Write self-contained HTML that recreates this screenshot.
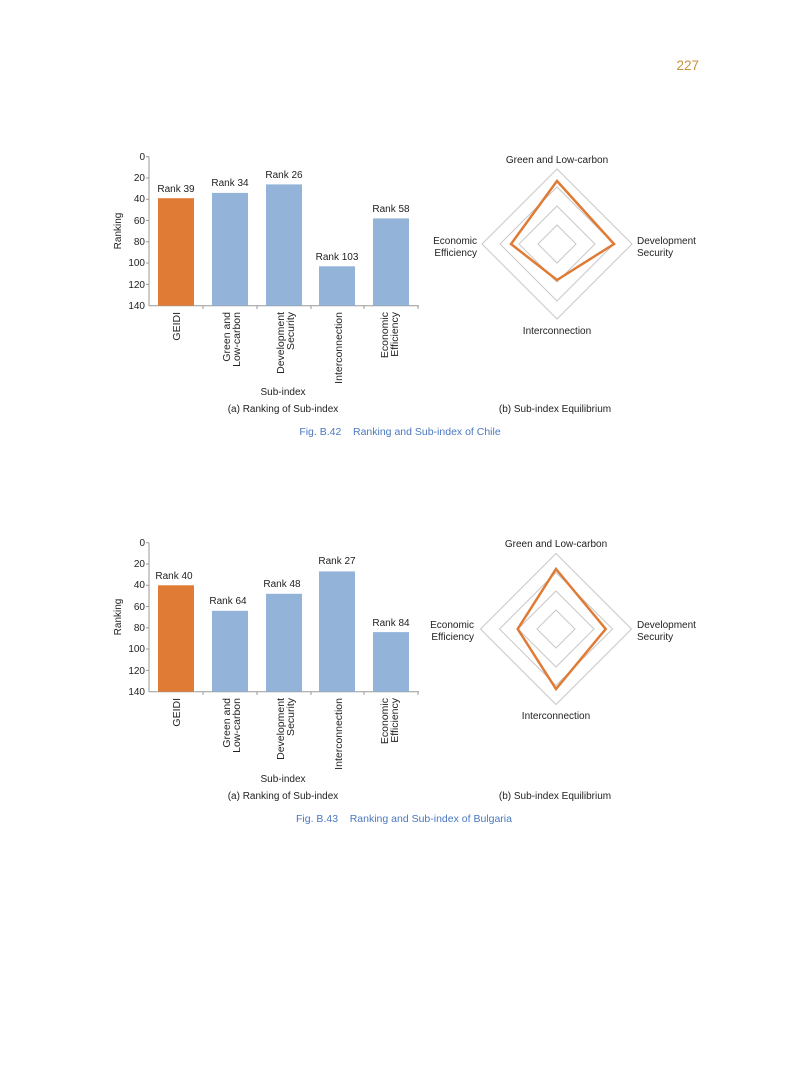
<!DOCTYPE html>
<html><head><meta charset="utf-8"><style>
html,body{margin:0;padding:0;background:#fff}
svg text{font-family:"Liberation Sans",sans-serif;fill:#222}
.cap{white-space:pre}
</style></head><body>
<svg width="793" height="1077" viewBox="0 0 793 1077" xmlns="http://www.w3.org/2000/svg">
<text x="699" y="70" font-size="13.5" text-anchor="end" style="fill:#c8923a">227</text>

<g id="c1">
<g font-size="10" text-anchor="end">
<text x="145" y="160">0</text><text x="145" y="181">20</text><text x="145" y="202">40</text><text x="145" y="224">60</text><text x="145" y="245">80</text><text x="145" y="266">100</text><text x="145" y="288">120</text><text x="145" y="309">140</text>
</g>
<line x1="149" y1="156.7" x2="149" y2="306" stroke="#999" stroke-width="1"/>
<line x1="149" y1="305.7" x2="419" y2="305.7" stroke="#999" stroke-width="1"/>
<g stroke="#999"><line x1="146" y1="156.7" x2="149" y2="156.7"/><line x1="146" y1="178" x2="149" y2="178"/><line x1="146" y1="199.3" x2="149" y2="199.3"/><line x1="146" y1="220.5" x2="149" y2="220.5"/><line x1="146" y1="241.8" x2="149" y2="241.8"/><line x1="146" y1="263" x2="149" y2="263"/><line x1="146" y1="284.4" x2="149" y2="284.4"/>
<line x1="203" y1="306" x2="203" y2="309"/><line x1="257" y1="306" x2="257" y2="309"/><line x1="311" y1="306" x2="311" y2="309"/><line x1="364" y1="306" x2="364" y2="309"/><line x1="418" y1="306" x2="418" y2="309"/></g>
<rect x="158" y="198.2" width="36" height="107.5" fill="#e07b35"/>
<rect x="212" y="192.9" width="36" height="112.8" fill="#93b3d9"/>
<rect x="266" y="184.4" width="36" height="121.3" fill="#93b3d9"/>
<rect x="319" y="266.3" width="36" height="39.4" fill="#93b3d9"/>
<rect x="373" y="218.4" width="36" height="87.3" fill="#93b3d9"/>
<g font-size="10" text-anchor="middle">
<text x="176" y="192">Rank 39</text><text x="230" y="186">Rank 34</text><text x="284" y="178">Rank 26</text><text x="337" y="260">Rank 103</text><text x="391" y="212">Rank 58</text>
</g>
<text transform="translate(121,231) rotate(-90)" font-size="10" text-anchor="middle">Ranking</text>
<g font-size="10.5" text-anchor="end">
<text transform="translate(180,312) rotate(-90)">GEIDI</text>
<text transform="translate(230,312) rotate(-90)">Green and</text><text transform="translate(240,312) rotate(-90)">Low-carbon</text>
<text transform="translate(284,312) rotate(-90)">Development</text><text transform="translate(294,312) rotate(-90)">Security</text>
<text transform="translate(342,312) rotate(-90)">Interconnection</text>
<text transform="translate(388,312) rotate(-90)">Economic</text><text transform="translate(398,312) rotate(-90)">Efficiency</text>
</g>
<text x="283" y="395" font-size="10" text-anchor="middle">Sub-index</text>
<text x="283" y="412" font-size="10" text-anchor="middle">(a) Ranking of Sub-index</text>
<g fill="none" stroke="#c8c8c8" stroke-width="1">
<polygon points="557,169 632,244 557,319 482,244"/>
<polygon points="557,187 614,244 557,301 500,244"/>
<polygon points="557,206 595,244 557,282 519,244"/>
<polygon points="557,225 576,244 557,263 538,244"/>
</g>
<polygon points="557,181 614,244 557,280 511,244" fill="none" stroke="#e07b35" stroke-width="2.5"/>
<g font-size="10">
<text x="557" y="163" text-anchor="middle">Green and Low-carbon</text>
<text x="557" y="334" text-anchor="middle">Interconnection</text>
<text x="477" y="244" text-anchor="end">Economic</text><text x="477" y="256" text-anchor="end">Efficiency</text>
<text x="637" y="244">Development</text><text x="637" y="256">Security</text>
</g>
<text x="555" y="412" font-size="10" text-anchor="middle">(b) Sub-index Equilibrium</text>
<text class="cap" x="400" y="435" font-size="10.5" text-anchor="middle" style="fill:#4a78c0">Fig. B.42    Ranking and Sub-index of Chile</text>
</g>

<g transform="translate(0,386)">
<g font-size="10" text-anchor="end">
<text x="145" y="160">0</text><text x="145" y="181">20</text><text x="145" y="202">40</text><text x="145" y="224">60</text><text x="145" y="245">80</text><text x="145" y="266">100</text><text x="145" y="288">120</text><text x="145" y="309">140</text>
</g>
<line x1="149" y1="156.7" x2="149" y2="306" stroke="#999" stroke-width="1"/>
<line x1="149" y1="305.7" x2="419" y2="305.7" stroke="#999" stroke-width="1"/>
<g stroke="#999"><line x1="146" y1="156.7" x2="149" y2="156.7"/><line x1="146" y1="178" x2="149" y2="178"/><line x1="146" y1="199.3" x2="149" y2="199.3"/><line x1="146" y1="220.5" x2="149" y2="220.5"/><line x1="146" y1="241.8" x2="149" y2="241.8"/><line x1="146" y1="263" x2="149" y2="263"/><line x1="146" y1="284.4" x2="149" y2="284.4"/>
<line x1="203" y1="306" x2="203" y2="309"/><line x1="257" y1="306" x2="257" y2="309"/><line x1="311" y1="306" x2="311" y2="309"/><line x1="364" y1="306" x2="364" y2="309"/><line x1="418" y1="306" x2="418" y2="309"/></g>
<rect x="158" y="199.3" width="36" height="106.4" fill="#e07b35"/>
<rect x="212" y="224.8" width="36" height="80.9" fill="#93b3d9"/>
<rect x="266" y="207.8" width="36" height="97.9" fill="#93b3d9"/>
<rect x="319" y="185.4" width="36" height="120.3" fill="#93b3d9"/>
<rect x="373" y="246.1" width="36" height="59.6" fill="#93b3d9"/>
<g font-size="10" text-anchor="middle">
<text x="174" y="193">Rank 40</text><text x="228" y="218">Rank 64</text><text x="282" y="201">Rank 48</text><text x="337" y="178">Rank 27</text><text x="391" y="240">Rank 84</text>
</g>
<text transform="translate(121,231) rotate(-90)" font-size="10" text-anchor="middle">Ranking</text>
<g font-size="10.5" text-anchor="end">
<text transform="translate(180,312) rotate(-90)">GEIDI</text>
<text transform="translate(230,312) rotate(-90)">Green and</text><text transform="translate(240,312) rotate(-90)">Low-carbon</text>
<text transform="translate(284,312) rotate(-90)">Development</text><text transform="translate(294,312) rotate(-90)">Security</text>
<text transform="translate(342,312) rotate(-90)">Interconnection</text>
<text transform="translate(388,312) rotate(-90)">Economic</text><text transform="translate(398,312) rotate(-90)">Efficiency</text>
</g>
<text x="283" y="396" font-size="10" text-anchor="middle">Sub-index</text>
<text x="283" y="413" font-size="10" text-anchor="middle">(a) Ranking of Sub-index</text>
<g fill="none" stroke="#c8c8c8" stroke-width="1">
<polygon points="556,167.5 631.5,243 556,318.5 480.5,243"/>
<polygon points="556,186.5 612.5,243 556,299.5 499.5,243"/>
<polygon points="556,205 594,243 556,281 518,243"/>
<polygon points="556,224 575,243 556,262 537,243"/>
</g>
<polygon points="556,183 605.7,243 556,303 517.7,243" fill="none" stroke="#e07b35" stroke-width="2.5"/>
<g font-size="10">
<text x="556" y="161" text-anchor="middle">Green and Low-carbon</text>
<text x="556" y="333" text-anchor="middle">Interconnection</text>
<text x="474" y="242" text-anchor="end">Economic</text><text x="474" y="254" text-anchor="end">Efficiency</text>
<text x="637" y="242">Development</text><text x="637" y="254">Security</text>
</g>
<text x="555" y="413" font-size="10" text-anchor="middle">(b) Sub-index Equilibrium</text>
<text class="cap" x="404" y="436" font-size="10.5" text-anchor="middle" style="fill:#4a78c0">Fig. B.43    Ranking and Sub-index of Bulgaria</text>
</g>
</svg>
</body></html>
